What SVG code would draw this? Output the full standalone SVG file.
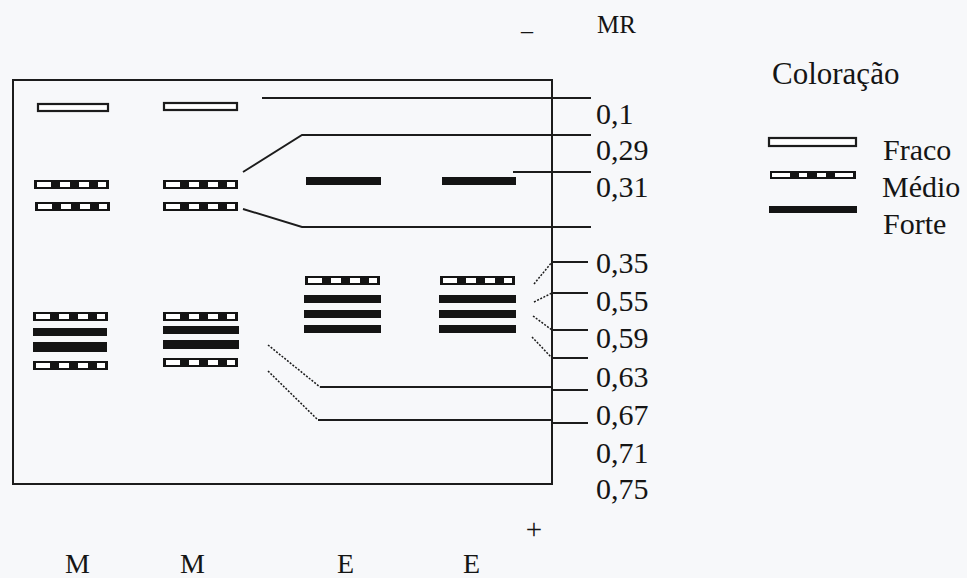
<svg xmlns="http://www.w3.org/2000/svg" xmlns:xlink="http://www.w3.org/1999/xlink" width="967" height="578" viewBox="0 0 967 578">
<style>
  text { font-family: 'Liberation Serif', 'DejaVu Serif', serif; fill: #151515; }
  .lbl { font-size: 30px; }
  .ln { stroke: #1c1c1c; stroke-width: 1.9; fill: none; }
  .dot { stroke: #1c1c1c; stroke-width: 1.5; fill: none; stroke-dasharray: 2 1.5; }
  .box { stroke: #1c1c1c; stroke-width: 2; fill: none; }
  .fraco { stroke: #1c1c1c; stroke-width: 2.2; fill: #ffffff; }
  .forte { fill: #141414; }
</style>
<defs>
  <g id="med">
    <rect x="0" y="0" width="75" height="9" fill="#141414"/>
    <rect x="3" y="2" width="14" height="5" fill="#ffffff"/>
    <rect x="26" y="2" width="10" height="5" fill="#ffffff"/>
    <rect x="45" y="2" width="10" height="5" fill="#ffffff"/>
    <rect x="64" y="2" width="8" height="5" fill="#ffffff"/>
  </g>
</defs>
<rect x="0" y="0" width="967" height="578" fill="#f7f8fa"/>

<g id="gel">
  <rect class="box" x="13" y="80" width="539" height="404"/>
</g>

<g id="lane-M1">
  <rect class="fraco" x="38" y="104" width="70" height="7"/>
  <use xlink:href="#med" x="34" y="180"/>
  <use xlink:href="#med" x="35" y="202"/>
  <use xlink:href="#med" x="33" y="312"/>
  <rect class="forte" x="33" y="328" width="74" height="8"/>
  <rect class="forte" x="33" y="342" width="74" height="10"/>
  <use xlink:href="#med" x="33" y="361"/>
</g>

<g id="lane-M2">
  <rect class="fraco" x="164" y="103" width="73" height="7"/>
  <use xlink:href="#med" x="163" y="180"/>
  <use xlink:href="#med" x="163" y="202"/>
  <use xlink:href="#med" x="163" y="312"/>
  <rect class="forte" x="163" y="326" width="76" height="8"/>
  <rect class="forte" x="163" y="340" width="76" height="9"/>
  <use xlink:href="#med" x="163" y="358"/>
</g>

<g id="lane-E1">
  <rect class="forte" x="306" y="177" width="75" height="8"/>
  <use xlink:href="#med" x="305" y="276"/>
  <rect class="forte" x="304" y="295" width="77" height="8"/>
  <rect class="forte" x="304" y="310" width="77" height="8"/>
  <rect class="forte" x="304" y="325" width="77" height="8"/>
</g>

<g id="lane-E2">
  <rect class="forte" x="442" y="177" width="74" height="8"/>
  <use xlink:href="#med" x="440" y="276"/>
  <rect class="forte" x="439" y="295" width="77" height="8"/>
  <rect class="forte" x="439" y="310" width="77" height="8"/>
  <rect class="forte" x="439" y="325" width="77" height="8"/>
</g>

<g id="connectors">
  <path class="ln" d="M262,98 H591"/>
  <path class="ln" d="M243,172 L302,135 H591"/>
  <path class="ln" d="M513,172 H591"/>
  <path class="ln" d="M243,209 L302,227 H591"/>
  <path class="ln" d="M552,262 H588"/>
  <path class="ln" d="M552,293 H588"/>
  <path class="ln" d="M552,330 H588"/>
  <path class="ln" d="M552,358 H588"/>
  <path class="ln" d="M552,390 H588"/>
  <path class="ln" d="M552,423 H588"/>
  <path class="dot" d="M534,284 L552,262"/>
  <path class="dot" d="M534,302 L552,293"/>
  <path class="dot" d="M533,316 L552,330"/>
  <path class="dot" d="M532,337 L552,358"/>
  <path class="dot" d="M268,345 L320,387"/>
  <path class="ln" d="M320,387 H552"/>
  <path class="dot" d="M268,371 L318,420"/>
  <path class="ln" d="M318,420 H552"/>
</g>

<g id="axis" font-family="'Liberation Serif', 'DejaVu Serif', serif">
  <text x="521" y="30" font-size="24">_</text>
  <text x="597" y="33" font-size="25">MR</text>
  <text class="lbl" x="596" y="124">0,1</text>
  <text class="lbl" x="596" y="160">0,29</text>
  <text class="lbl" x="596" y="197">0,31</text>
  <text class="lbl" x="596" y="273">0,35</text>
  <text class="lbl" x="596" y="311">0,55</text>
  <text class="lbl" x="596" y="348">0,59</text>
  <text class="lbl" x="596" y="387">0,63</text>
  <text class="lbl" x="596" y="425">0,67</text>
  <text class="lbl" x="596" y="463">0,71</text>
  <text class="lbl" x="596" y="499">0,75</text>
  <text x="534" y="539" font-size="29" text-anchor="middle">+</text>
</g>

<g id="lane-labels" font-family="'Liberation Serif', 'DejaVu Serif', serif">
  <text x="65" y="573" font-size="28">M</text>
  <text x="180" y="573" font-size="28">M</text>
  <text x="337" y="573" font-size="28">E</text>
  <text x="463" y="573" font-size="28">E</text>
</g>

<g id="legend" font-family="'Liberation Serif', 'DejaVu Serif', serif">
  <text x="772" y="84" font-size="31">Coloração</text>
  <rect class="fraco" x="769" y="138" width="87" height="8"/>
  <text class="lbl" x="883" y="160">Fraco</text>
  <rect x="770" y="171" width="86" height="8" fill="#141414"/>
  <rect x="772" y="173" width="18" height="4" fill="#ffffff"/>
  <rect x="799" y="173" width="8" height="4" fill="#ffffff"/>
  <rect x="817" y="173" width="9" height="4" fill="#ffffff"/>
  <rect x="835" y="173" width="18" height="4" fill="#ffffff"/>
  <text class="lbl" x="882" y="197">Médio</text>
  <rect class="forte" x="769" y="206" width="88" height="7"/>
  <text class="lbl" x="883" y="234">Forte</text>
</g>
</svg>
